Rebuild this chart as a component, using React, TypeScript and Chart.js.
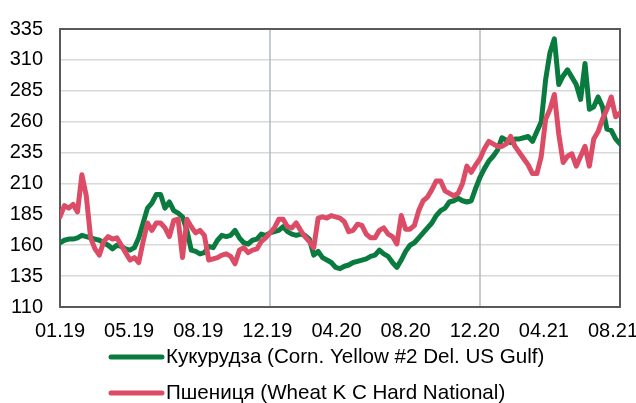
import React, { useEffect, useRef } from "react";
import { Chart, registerables } from "chart.js";

Chart.register(...registerables);

// ---- data ----
const tickLabels = ["01.19", "05.19", "08.19", "12.19", "04.20", "08.20", "12.20", "04.21", "08.21"];
const labelStep = 15.8; // samples between labelled ticks
const yearBreaks = [48, 96]; // sample index of 01.2020 and 01.2021
const seriesNames = [
  "Кукурудза (Corn. Yellow #2 Del. US Gulf)",
  "Пшениця (Wheat K C Hard National)",
];
const yMin = 110;
const yMax = 335;
const yStep = 25;

const corn = [
  162, 164, 165, 165, 166, 168, 167, 166, 165, 164,
  162, 160, 157, 160, 159, 157, 156, 158, 166, 178,
  190, 194, 201, 201, 190, 195, 188, 186, 183, 172,
  156, 155, 153, 154, 159, 158, 164, 168, 167, 168,
  172, 166, 162, 161, 164, 165, 169, 168, 170, 171,
  172, 175, 171, 169, 168, 169, 168, 165, 152, 155,
  150, 148, 146, 142, 141, 143, 144, 146, 147, 148,
  149, 151, 152, 156, 153, 151, 146, 142, 148, 155,
  160, 162, 166, 170, 174, 178, 184, 188, 190, 195,
  196, 198, 196, 195, 196, 206, 215, 222, 228, 232,
  237, 247, 245, 243, 246, 246, 247, 248, 244, 252,
  260, 294, 316, 327, 290, 297, 302, 296, 290, 278,
  307, 270, 272, 280, 272, 254, 253, 246, 242,
];

const wheat = [
  183, 192, 190, 193, 187, 217, 200, 166, 157, 152,
  163, 167, 165, 166, 160, 154, 148, 150, 146, 163,
  178, 172, 178, 178, 174, 167, 180, 181, 150, 181,
  175, 170, 172, 168, 148, 149, 150, 152, 153, 151,
  145, 156, 158, 154, 156, 157, 163, 166, 170, 174,
  181, 181, 175, 174, 178, 172, 167, 163, 158, 182,
  183, 182, 184, 183, 182, 179, 171, 172, 177, 176,
  169, 166, 166, 172, 174, 169, 167, 161, 184, 173,
  173, 176, 188, 196, 199, 205, 212, 212, 204, 202,
  200, 202, 210, 224, 219, 225, 230, 238, 244, 242,
  240, 240, 242, 248, 240, 235, 230, 225, 218, 218,
  232, 262, 270, 282, 250, 227, 232, 234, 224, 232,
  240, 224, 246, 252, 262, 270, 280, 264, 267,
];

// ---- styles ----
const FONT = '"Liberation Sans", Arial, sans-serif';
const FONT_SIZE = 20;
const LEGEND_FONT_SIZE = 20.6;
const CORN_COLOR = "#0a7b3f";
const WHEAT_COLOR = "#dc4c66";
const FRAME_COLOR = "#5a5a5a";
const GRID_COLOR = "#d9d9d9";
const YEAR_LINE_COLOR = "#b3bac2";

const W = 636;
const H = 403;

const framePlugin = {
  id: "frameAndYears",
  beforeDatasetsDraw(chart: any) {
    const { ctx, chartArea, scales } = chart;
    ctx.save();
    ctx.strokeStyle = YEAR_LINE_COLOR;
    ctx.lineWidth = 1.5;
    yearBreaks.forEach((v) => {
      const px = scales.x.getPixelForValue(v);
      ctx.beginPath();
      ctx.moveTo(px, chartArea.top);
      ctx.lineTo(px, chartArea.bottom + 1);
      ctx.stroke();
    });
    ctx.strokeStyle = FRAME_COLOR;
    ctx.lineWidth = 2;
    ctx.strokeRect(chartArea.left, chartArea.top, chartArea.right - chartArea.left, chartArea.bottom - chartArea.top);
    ctx.restore();
  },
};

const legendPlugin = {
  id: "stackedLegend",
  afterDraw(chart: any) {
    const { ctx } = chart;
    const rows = [
      { y: 357, color: CORN_COLOR, text: seriesNames[0] },
      { y: 393, color: WHEAT_COLOR, text: seriesNames[1] },
    ];
    ctx.save();
    ctx.font = `${LEGEND_FONT_SIZE}px ${FONT}`;
    ctx.textBaseline = "middle";
    ctx.textAlign = "left";
    rows.forEach((r) => {
      ctx.strokeStyle = r.color;
      ctx.lineWidth = 5;
      ctx.lineCap = "round";
      ctx.beginPath();
      ctx.moveTo(111, r.y);
      ctx.lineTo(162, r.y);
      ctx.stroke();
      ctx.fillStyle = "#000";
      ctx.fillText(r.text, 166, r.y);
    });
    ctx.restore();
  },
};

export default function App() {
  const canvasRef = useRef<HTMLCanvasElement | null>(null);

  useEffect(() => {
    if (!canvasRef.current) return;
    const chart = new Chart(canvasRef.current, {
      type: "line",
      data: {
        datasets: [
          {
            label: seriesNames[0],
            data: corn.map((v, i) => ({ x: i, y: v })),
            borderColor: CORN_COLOR,
            backgroundColor: CORN_COLOR,
            borderWidth: 5,
            pointRadius: 0,
            tension: 0,
            borderJoinStyle: "round",
            borderCapStyle: "round",
            order: 1,
          },
          {
            label: seriesNames[1],
            data: wheat.map((v, i) => ({ x: i, y: v })),
            borderColor: WHEAT_COLOR,
            backgroundColor: WHEAT_COLOR,
            borderWidth: 5,
            pointRadius: 0,
            tension: 0,
            borderJoinStyle: "round",
            borderCapStyle: "round",
            order: 0,
          },
        ],
      },
      options: {
        responsive: false,
        animation: false,
        devicePixelRatio: 1,
        layout: { padding: { top: 19, right: 16, bottom: 0, left: 0 } },
        plugins: {
          legend: { display: false },
          tooltip: { enabled: false },
        },
        scales: {
          x: {
            type: "linear",
            min: 0,
            max: corn.length - 1,
            grid: { display: false, drawTicks: false },
            border: { display: false },
            afterBuildTicks: (s: any) => {
              s.ticks = tickLabels.map((_, i) => ({ value: i * labelStep }));
            },
            afterFit: (s: any) => {
              s.height = H - 307;
              s.paddingLeft = 0;
              s.paddingRight = 0;
            },
            ticks: {
              autoSkip: false,
              maxRotation: 0,
              minRotation: 0,
              padding: 12,
              color: "#000",
              font: { family: FONT, size: FONT_SIZE },
              callback: (_v: any, i: number) => tickLabels[i],
            },
          },
          y: {
            min: yMin,
            max: yMax,
            afterFit: (s: any) => {
              s.width = 60;
            },
            grid: { color: GRID_COLOR, lineWidth: 1.5, drawTicks: false },
            border: { display: true, color: FRAME_COLOR, width: 2 },
            ticks: {
              stepSize: yStep,
              padding: 17,
              color: "#000",
              font: { family: FONT, size: FONT_SIZE },
            },
          },
        },
      },
      plugins: [framePlugin, legendPlugin],
    } as any);
    return () => chart.destroy();
  }, []);

  return (
    <div style={{ position: "fixed", left: 0, top: 0, width: W, height: H, background: "#fff", overflow: "hidden" }}>
      <canvas ref={canvasRef} width={W} height={H} style={{ width: W, height: H, display: "block" }} />
    </div>
  );
}
